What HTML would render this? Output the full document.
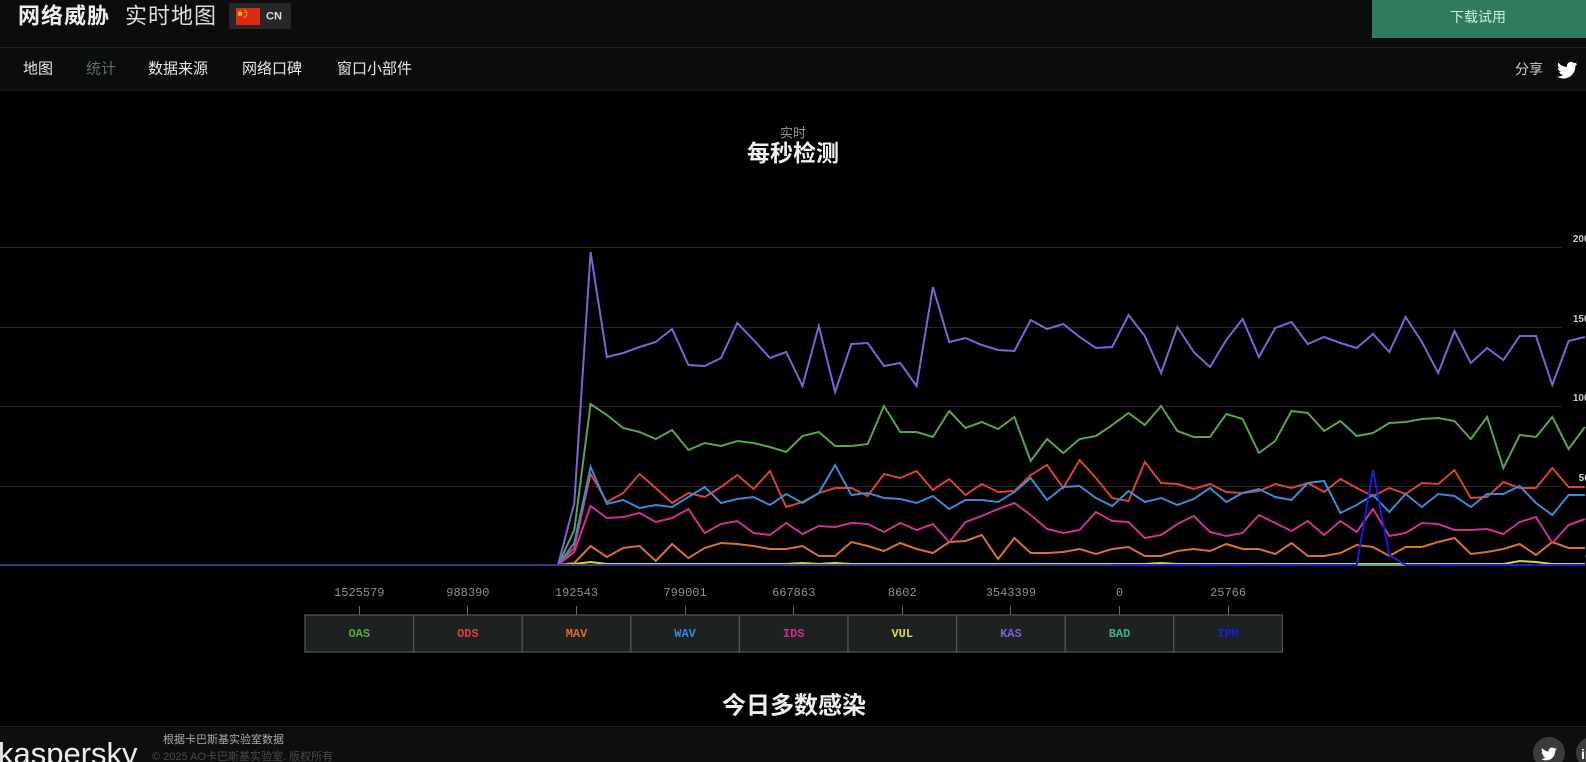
<!DOCTYPE html>
<html>
<head>
<meta charset="utf-8">
<style>
html,body{margin:0;padding:0;background:#000;overflow:hidden;}
svg{display:block;}
text{font-family:"Liberation Sans","Noto Sans CJK SC",sans-serif;}
.mono{font-family:"Liberation Mono","Noto Sans CJK SC",monospace;}
</style>
</head>
<body>
<svg width="1586" height="762" viewBox="0 0 1586 762" xmlns="http://www.w3.org/2000/svg">
  <rect x="0" y="0" width="1586" height="762" fill="#000"/>

  <!-- header -->
  <rect x="0" y="0" width="1586" height="47" fill="#0b0c0c"/>
  <line x1="0" y1="47.5" x2="1586" y2="47.5" stroke="#1f2020" stroke-width="1"/>
  <rect x="0" y="48" width="1586" height="42" fill="#0b0c0c"/>
  <line x1="0" y1="90.5" x2="1586" y2="90.5" stroke="#171818" stroke-width="1"/>

  <text x="18" y="16" font-size="22" font-weight="bold" fill="#eeeeee" dominant-baseline="central" letter-spacing="1">网络威胁</text>
  <text x="125" y="16" font-size="22" fill="#dddddd" dominant-baseline="central" letter-spacing="1">实时地图</text>

  <rect x="229" y="3" width="62" height="26" rx="2" fill="#262828"/>
  <rect x="236" y="8" width="24" height="17" fill="#de2910"/>
  <polygon points="240,10 241,12.5 243.5,12.5 241.5,14 242.3,16.5 240,15 237.7,16.5 238.5,14 236.5,12.5 239,12.5" fill="#ffde00"/>
  <circle cx="245" cy="10.5" r="0.8" fill="#ffde00"/>
  <circle cx="246.5" cy="12.5" r="0.8" fill="#ffde00"/>
  <circle cx="246.5" cy="15" r="0.8" fill="#ffde00"/>
  <circle cx="245" cy="17" r="0.8" fill="#ffde00"/>
  <text x="266" y="16.5" font-size="11" font-weight="bold" fill="#dddddd" dominant-baseline="central">CN</text>

  <rect x="1372" y="0" width="214" height="38" fill="#2f7b5d"/>
  <text x="1478" y="17" font-size="14" fill="#d0ece0" text-anchor="middle" dominant-baseline="central">下载试用</text>

  <!-- nav -->
  <text x="23" y="69" font-size="15" fill="#e8e8e8" dominant-baseline="central">地图</text>
  <text x="86" y="69" font-size="15" fill="#5d7266" dominant-baseline="central">统计</text>
  <text x="148" y="69" font-size="15" fill="#e8e8e8" dominant-baseline="central">数据来源</text>
  <text x="242" y="69" font-size="15" fill="#e8e8e8" dominant-baseline="central">网络口碑</text>
  <text x="337" y="69" font-size="15" fill="#e8e8e8" dominant-baseline="central">窗口小部件</text>
  <text x="1515" y="69" font-size="14" fill="#cccccc" dominant-baseline="central">分享</text>
  <g transform="translate(1557,60) scale(0.85)" fill="#ffffff">
    <path d="M23.954 4.569c-.885.389-1.83.654-2.825.775 1.014-.611 1.794-1.574 2.163-2.723-.951.555-2.005.959-3.127 1.184-.896-.959-2.173-1.559-3.591-1.559-2.717 0-4.920 2.203-4.920 4.917 0 .39.045.765.127 1.124C7.691 8.094 4.066 6.13 1.64 3.161c-.427.722-.666 1.561-.666 2.475 0 1.71.87 3.213 2.188 4.096-.807-.026-1.566-.248-2.228-.616v.061c0 2.385 1.693 4.374 3.946 4.827-.413.111-.849.171-1.296.171-.314 0-.615-.03-.916-.086.631 1.953 2.445 3.377 4.604 3.417-1.68 1.319-3.809 2.105-6.102 2.105-.39 0-.779-.023-1.17-.067 2.189 1.394 4.768 2.209 7.557 2.209 9.054 0 13.999-7.496 13.999-13.986 0-.209 0-.42-.015-.63.961-.689 1.8-1.56 2.46-2.548l-.047-.02z"/>
  </g>

  <!-- chart titles -->
  <text x="793" y="133" font-size="13" fill="#999999" text-anchor="middle" dominant-baseline="central">实时</text>
  <text x="793" y="153" font-size="23" font-weight="bold" fill="#f0f0f0" text-anchor="middle" dominant-baseline="central">每秒检测</text>

  <!-- gridlines -->
  <g stroke="#262727" stroke-width="1">
    <line x1="0" y1="247.5" x2="1562" y2="247.5"/>
    <line x1="0" y1="327.5" x2="1562" y2="327.5"/>
    <line x1="0" y1="406.5" x2="1562" y2="406.5"/>
    <line x1="0" y1="486.5" x2="1562" y2="486.5"/>
  </g>

  <!-- series -->
  <g transform="translate(558,0) scale(16.3,1)" fill="none" stroke-width="2" stroke-linejoin="miter">
    <polyline vector-effect="non-scaling-stroke" stroke="#5ba34c" points="-35,565 0,565 1,530 2,404 3,415 4,428 5,432 6,439 7,430 8,450 9,443 10,446 11,441 12,443 13,447 14,452 15,436 16,432 17,446 18,446 19,444 20,406 21,432 22,432 23,437 24,411 25,428 26,422 27,429 28,417 29,461 30,439 31,453 32,439 33,436 34,425 35,413 36,425 37,406 38,431 39,437 40,437 41,414 42,419 43,453 44,441 45,411 46,413 47,431 48,421 49,436 50,433 51,423 52,422 53,419 54,418 55,421 56,439 57,417 58,468 59,435 60,437 61,417 62,449 63,427"/>
    <polyline vector-effect="non-scaling-stroke" stroke="#d9413a" points="-35,565 0,565 1,548 2,474 3,502 4,493 5,474 6,488 7,503 8,493 9,497 10,487 11,475 12,489 13,471 14,507 15,502 16,493 17,488 18,488 19,496 20,474 21,478 22,471 23,490 24,479 25,495 26,484 27,492 28,491 29,475 30,465 31,488 32,460 33,478 34,498 35,501 36,462 37,483 38,484 39,489 40,484 41,492 42,493 43,491 44,484 45,488 46,483 47,492 48,479 49,488 50,496 51,488 52,494 53,483 54,484 55,470 56,498 57,497 58,482 59,488 60,488 61,468 62,487 63,487"/>
    <polyline vector-effect="non-scaling-stroke" stroke="#d9722e" points="-35,565 0,565 1,563 2,546 3,557 4,548 5,546 6,561 7,544 8,558 9,548 10,543 11,544 12,546 13,549 14,549 15,546 16,556 17,556 18,542 19,546 20,551 21,543 22,549 23,553 24,542 25,541 26,535 27,559 28,538 29,553 30,553 31,552 32,549 33,554 34,549 35,547 36,556 37,556 38,551 39,549 40,551 41,544 42,549 43,549 44,554 45,543 46,556 47,556 48,553 49,545 50,547 51,556 52,547 53,547 54,542 55,538 56,554 57,552 58,549 59,544 60,555 61,542 62,548 63,548"/>
    <polyline vector-effect="non-scaling-stroke" stroke="#3a8ad6" points="-35,565 0,565 1,543 2,467 3,504 4,500 5,508 6,505 7,507 8,497 9,487 10,503 11,499 12,497 13,505 14,494 15,503 16,493 17,465 18,495 19,493 20,498 21,499 22,503 23,496 24,509 25,500 26,500 27,502 28,492 29,478 30,500 31,487 32,486 33,498 34,506 35,491 36,502 37,498 38,505 39,499 40,488 41,502 42,493 43,489 44,497 45,500 46,483 47,481 48,513 49,505 50,495 51,512 52,494 53,507 54,494 55,496 56,507 57,494 58,494 59,486 60,503 61,515 62,495 63,495"/>
    <polyline vector-effect="non-scaling-stroke" stroke="#cc3391" points="-35,565 0,565 1,552 2,506 3,518 4,517 5,513 6,522 7,518 8,509 9,533 10,524 11,521 12,533 13,535 14,523 15,534 16,526 17,527 18,523 19,524 20,532 21,523 22,530 23,524 24,542 25,522 26,516 27,509 28,503 29,515 30,529 31,533 32,530 33,512 34,521 35,522 36,538 37,535 38,524 39,516 40,532 41,536 42,533 43,515 44,523 45,531 46,521 47,535 48,521 49,532 50,509 51,536 52,533 53,523 54,524 55,530 56,530 57,529 58,534 59,522 60,517 61,543 62,525 63,519"/>
    <polyline vector-effect="non-scaling-stroke" stroke="#d4d44a" points="-35,565 0,565 1,564 2,562 3,564 4,564 5,564 6,564 7,564 8,564 9,564 10,564 11,564 12,564 13,564 14,564 15,563 16,564 17,563 18,564 19,564 20,564 21,564 22,564 23,564 24,564 25,564 26,564 27,564 28,564 29,564 30,564 31,564 32,564 33,564 34,564 35,564 36,564 37,563 38,564 39,564 40,564 41,564 42,564 43,564 44,564 45,564 46,564 47,564 48,564 49,564 50,564 51,564 52,564 53,564 54,564 55,564 56,564 57,564 58,564 59,561 60,562 61,564 62,564 63,564"/>
    <polyline vector-effect="non-scaling-stroke" stroke="#7c64d8" points="-35,565 0,565 1,503 2,252 3,357 4,353 5,347 6,342 7,329 8,365 9,366 10,358 11,323 12,340 13,358 14,352 15,386 16,326 17,392 18,344 19,343 20,366 21,363 22,386 23,287 24,342 25,338 26,345 27,350 28,351 29,320 30,329 31,324 32,337 33,348 34,347 35,315 36,336 37,373 38,327 39,352 40,367 41,340 42,319 43,357 44,328 45,322 46,344 47,337 48,343 49,348 50,334 51,352 52,317 53,342 54,373 55,331 56,363 57,348 58,360 59,336 60,336 61,385 62,341 63,337"/>
    <polyline vector-effect="non-scaling-stroke" stroke="#3fae85" points="-35,565 63,565"/>
    <polyline vector-effect="non-scaling-stroke" stroke="#2b3f86" points="-35,565 34,565"/>
    <polyline vector-effect="non-scaling-stroke" stroke="#1a1ae0" points="34,565 49,565 50,470 51,555 52,565 63,565"/>
  </g>

  <!-- right axis labels -->
  <g font-size="10" font-weight="bold" fill="#cccccc" text-anchor="middle">
    <text x="1584" y="242">2000</text>
    <text x="1584" y="322">1500</text>
    <text x="1584" y="401">1000</text>
    <text x="1587" y="481">500</text>
    <text x="1588" y="560">0</text>
  </g>

  <!-- legend -->
  <g stroke="#666" stroke-width="1">
    <line x1="359.5" y1="606" x2="359.5" y2="615"/>
    <line x1="467.5" y1="606" x2="467.5" y2="615"/>
    <line x1="576.5" y1="606" x2="576.5" y2="615"/>
    <line x1="685.5" y1="606" x2="685.5" y2="615"/>
    <line x1="793.5" y1="606" x2="793.5" y2="615"/>
    <line x1="902.5" y1="606" x2="902.5" y2="615"/>
    <line x1="1010.5" y1="606" x2="1010.5" y2="615"/>
    <line x1="1119.5" y1="606" x2="1119.5" y2="615"/>
    <line x1="1228.5" y1="606" x2="1228.5" y2="615"/>
  </g>
  <g fill="#1d2220" stroke="#4f5955" stroke-width="1.2">
    <rect x="305" y="615" width="108.6" height="37"/>
    <rect x="413.6" y="615" width="108.6" height="37"/>
    <rect x="522.2" y="615" width="108.6" height="37"/>
    <rect x="630.8" y="615" width="108.6" height="37"/>
    <rect x="739.4" y="615" width="108.6" height="37"/>
    <rect x="848" y="615" width="108.6" height="37"/>
    <rect x="956.6" y="615" width="108.6" height="37"/>
    <rect x="1065.2" y="615" width="108.6" height="37"/>
    <rect x="1173.8" y="615" width="108.6" height="37"/>
  </g>
  <g font-size="12" fill="#8f8f8f" text-anchor="middle" dominant-baseline="central">
    <text class="mono" x="359.3" y="593">1525579</text>
    <text class="mono" x="467.9" y="593">988390</text>
    <text class="mono" x="576.5" y="593">192543</text>
    <text class="mono" x="685.1" y="593">799001</text>
    <text class="mono" x="793.7" y="593">667863</text>
    <text class="mono" x="902.3" y="593">8602</text>
    <text class="mono" x="1010.9" y="593">3543399</text>
    <text class="mono" x="1119.5" y="593">0</text>
    <text class="mono" x="1228.1" y="593">25766</text>
  </g>
  <g font-size="12" font-weight="bold" text-anchor="middle" dominant-baseline="central">
    <text class="mono" x="359.3" y="634" fill="#58a84b">OAS</text>
    <text class="mono" x="467.9" y="634" fill="#e0403c">ODS</text>
    <text class="mono" x="576.5" y="634" fill="#e06a2c">MAV</text>
    <text class="mono" x="685.1" y="634" fill="#3b86d8">WAV</text>
    <text class="mono" x="793.7" y="634" fill="#d02f8e">IDS</text>
    <text class="mono" x="902.3" y="634" fill="#d8d84a">VUL</text>
    <text class="mono" x="1010.9" y="634" fill="#7a5fd6">KAS</text>
    <text class="mono" x="1119.5" y="634" fill="#3fae85">BAD</text>
    <text class="mono" x="1228.1" y="634" fill="#1a1ae0">IPM</text>
  </g>

  <text x="794" y="706" font-size="24" font-weight="bold" fill="#eeeeee" text-anchor="middle" dominant-baseline="central">今日多数感染</text>

  <!-- footer -->
  <rect x="0" y="726" width="1586" height="36" fill="#0d0f0e"/>
  <line x1="0" y1="726.5" x2="1586" y2="726.5" stroke="#202221" stroke-width="1"/>
  <text x="-2" y="764" font-size="31" fill="#ececec">kaspersky</text>
  <text x="163" y="740" font-size="11" fill="#aaaaaa" dominant-baseline="central">根据卡巴斯基实验室数据</text>
  <text x="152" y="757" font-size="11" fill="#4a4a4a" dominant-baseline="central">© 2025 AO卡巴斯基实验室. 版权所有</text>
  <circle cx="1549" cy="753" r="16" fill="#3a3b3b"/>
  <g transform="translate(1541,746) scale(0.66)" fill="#ffffff">
    <path d="M23.954 4.569c-.885.389-1.83.654-2.825.775 1.014-.611 1.794-1.574 2.163-2.723-.951.555-2.005.959-3.127 1.184-.896-.959-2.173-1.559-3.591-1.559-2.717 0-4.920 2.203-4.920 4.917 0 .39.045.765.127 1.124C7.691 8.094 4.066 6.13 1.64 3.161c-.427.722-.666 1.561-.666 2.475 0 1.71.87 3.213 2.188 4.096-.807-.026-1.566-.248-2.228-.616v.061c0 2.385 1.693 4.374 3.946 4.827-.413.111-.849.171-1.296.171-.314 0-.615-.03-.916-.086.631 1.953 2.445 3.377 4.604 3.417-1.68 1.319-3.809 2.105-6.102 2.105-.39 0-.779-.023-1.17-.067 2.189 1.394 4.768 2.209 7.557 2.209 9.054 0 13.999-7.496 13.999-13.986 0-.209 0-.42-.015-.63.961-.689 1.8-1.56 2.46-2.548l-.047-.02z"/>
  </g>
  <circle cx="1592" cy="753" r="16" fill="#3a3b3b"/>
  <text x="1581" y="754" font-size="14" font-weight="bold" fill="#ffffff" dominant-baseline="central">in</text>
</svg>
</body>
</html>
